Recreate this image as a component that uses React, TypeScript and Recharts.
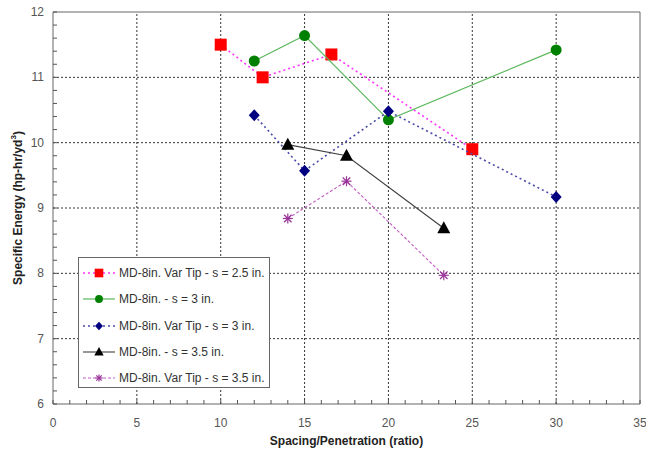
import React from 'react';
import { ScatterChart, Scatter, XAxis, YAxis, ReferenceLine, ReferenceArea, Legend } from 'recharts';

// ---- data ----
const varTip25 = [
  { x: 10, y: 11.5 },
  { x: 12.5, y: 11.0 },
  { x: 16.6, y: 11.35 },
  { x: 25, y: 9.9 },
];
const md8s3 = [
  { x: 12, y: 11.25 },
  { x: 15, y: 11.64 },
  { x: 20, y: 10.35 },
  { x: 30, y: 11.42 },
];
const varTip3 = [
  { x: 12, y: 10.42 },
  { x: 15, y: 9.57 },
  { x: 20, y: 10.48 },
  { x: 30, y: 9.17 },
];
const md8s35 = [
  { x: 14, y: 9.97 },
  { x: 17.5, y: 9.8 },
  { x: 23.3, y: 8.69 },
];
const varTip35 = [
  { x: 14, y: 8.84 },
  { x: 17.5, y: 9.41 },
  { x: 23.3, y: 7.97 },
];

const seriesNames = [
  'MD-8in. Var Tip - s = 2.5 in.',
  'MD-8in. - s = 3 in.',
  'MD-8in. Var Tip - s = 3 in.',
  'MD-8in. - s = 3.5 in.',
  'MD-8in. Var Tip - s = 3.5 in.',
];

const xMajorTicks = [0, 5, 10, 15, 20, 25, 30, 35];
const yMajorTicks = [6, 7, 8, 9, 10, 11, 12];
const xGrid = [5, 10, 15, 20, 25, 30];
const yGrid = [7, 8, 9, 10, 11];

const xAllTicks: number[] = [];
for (let i = 0; i <= 35; i++) xAllTicks.push(i);
const yAllTicks: number[] = [];
for (let i = 0; i <= 30; i++) yAllTicks.push(Math.round((6 + i * 0.2) * 10) / 10);

const FONT = '"Liberation Sans", Arial, sans-serif';

// ---- marker shapes ----
type Kind = 'square' | 'circle' | 'diamond' | 'triangle' | 'asterisk';

function Marker({ kind, cx, cy, color, k = 1 }: { kind: Kind; cx: number; cy: number; color: string; k?: number }) {
  if (kind === 'square') return <rect x={cx - 6 * k} y={cy - 6 * k} width={12 * k} height={12 * k} fill={color} />;
  if (kind === 'circle') return <circle cx={cx} cy={cy} r={5.5 * k} fill={color} />;
  if (kind === 'diamond')
    return (
      <polygon
        points={`${cx},${cy - 6 * k} ${cx + 5.5 * k},${cy} ${cx},${cy + 6 * k} ${cx - 5.5 * k},${cy}`}
        fill={color}
      />
    );
  if (kind === 'triangle')
    return (
      <polygon
        points={`${cx},${cy - 7 * k} ${cx + 6.5 * k},${cy + 5 * k} ${cx - 6.5 * k},${cy + 5 * k}`}
        fill={color}
      />
    );
  const r = 5 * k;
  return (
    <g stroke={color} strokeWidth={1.2}>
      <line x1={cx - r} y1={cy} x2={cx + r} y2={cy} />
      <line x1={cx} y1={cy - r} x2={cx} y2={cy + r} />
      <line x1={cx - r * 0.75} y1={cy - r * 0.75} x2={cx + r * 0.75} y2={cy + r * 0.75} />
      <line x1={cx - r * 0.75} y1={cy + r * 0.75} x2={cx + r * 0.75} y2={cy - r * 0.75} />
    </g>
  );
}

const series = [
  { name: seriesNames[0], data: varTip25, kind: 'square' as Kind, color: '#ff0000', line: '#ff33ff', dash: '2 3', width: 1.6 },
  { name: seriesNames[1], data: md8s3, kind: 'circle' as Kind, color: '#008000', line: '#5cb85c', dash: undefined, width: 1.2 },
  { name: seriesNames[2], data: varTip3, kind: 'diamond' as Kind, color: '#000080', line: '#4a4aa8', dash: '2 3', width: 1.6 },
  { name: seriesNames[3], data: md8s35, kind: 'triangle' as Kind, color: '#000000', line: '#404040', dash: undefined, width: 1.1 },
  { name: seriesNames[4], data: varTip35, kind: 'asterisk' as Kind, color: '#993399', line: '#c25cc2', dash: '3 2', width: 1.1 },
];

// ---- ticks ----
const XTick = (props: any) => {
  const { x, y, payload } = props;
  const v = payload.value;
  const major = xMajorTicks.includes(v);
  return (
    <g>
      <line x1={x} y1={y} x2={x} y2={y - 4} stroke="#555" strokeWidth={1} />
      {major && (
        <text x={x} y={y + 23} textAnchor="middle" fontSize={12} fill="#555" fontFamily={FONT}>
          {v}
        </text>
      )}
    </g>
  );
};

const YTick = (props: any) => {
  const { x, y, payload } = props;
  const v = payload.value;
  const major = yMajorTicks.includes(v);
  return (
    <g>
      <line x1={x} y1={y} x2={x + 4} y2={y} stroke="#555" strokeWidth={1} />
      {major && (
        <text x={x - 9} y={y + 4} textAnchor="end" fontSize={12} fill="#555" fontFamily={FONT}>
          {v}
        </text>
      )}
    </g>
  );
};

const YLabel = (props: any) => {
  const vb = props.viewBox || {};
  const cx = (vb.x || 0) + 18;
  const cy = (vb.y || 0) + (vb.height || 0) / 2;
  return (
    <text
      x={cx}
      y={cy}
      transform={`rotate(-90, ${cx}, ${cy})`}
      textAnchor="middle"
      dominantBaseline="central"
      fontSize={12}
      fontWeight="bold"
      fill="#222"
      fontFamily={FONT}
    >
      Specific Energy (hp-hr/yd
      <tspan dy={-5} fontSize={8}>3</tspan>
      <tspan dy={5}>)</tspan>
    </text>
  );
};

const XLabel = (props: any) => {
  const vb = props.viewBox || {};
  const cx = (vb.x || 0) + (vb.width || 0) / 2;
  const cy = (vb.y || 0) + 41;
  return (
    <text x={cx} y={cy} textAnchor="middle" fontSize={12} fontWeight="bold" fill="#222" fontFamily={FONT}>
      Spacing/Penetration (ratio)
    </text>
  );
};

const LegendBox = () => (
  <div
    style={{
      width: 192,
      height: 131,
      border: '1px solid #666',
      background: '#fff',
      boxSizing: 'border-box',
      paddingTop: 2,
      fontFamily: FONT,
      fontSize: 12,
      color: '#333',
    }}
  >
    {series.map((s) => (
      <div key={s.name} style={{ height: 26.3, display: 'flex', alignItems: 'center', whiteSpace: 'nowrap' }}>
        <svg width={40} height={16} style={{ flex: 'none' }}>
          <line x1={4} y1={8} x2={36} y2={8} stroke={s.line} strokeWidth={s.width} strokeDasharray={s.dash} />
          <Marker kind={s.kind} cx={20} cy={8} color={s.color} k={0.72} />
        </svg>
        <span>{s.name}</span>
      </div>
    ))}
  </div>
);

export default function App() {
  return (
    <div style={{ position: 'absolute', left: 0, top: 0, width: 646, height: 451, background: '#fff' }}>
      <ScatterChart width={646} height={451} margin={{ top: 12, right: 6, bottom: 0, left: 0 }}>
        <XAxis
          type="number"
          dataKey="x"
          domain={[0, 35]}
          ticks={xAllTicks}
          interval={0}
          tick={<XTick />}
          tickLine={false}
          tickSize={0}
          tickMargin={0}
          axisLine={false}
          height={47}
          allowDataOverflow
          label={<XLabel />}
        />
        <YAxis
          type="number"
          dataKey="y"
          domain={[6, 12]}
          ticks={yAllTicks}
          interval={0}
          tick={<YTick />}
          tickLine={false}
          tickSize={0}
          tickMargin={0}
          axisLine={false}
          width={53}
          allowDataOverflow
          label={<YLabel />}
        />
        {xGrid.map((v) => (
          <ReferenceLine key={'gx' + v} x={v} stroke="#333" strokeDasharray="2 2" strokeWidth={1} />
        ))}
        {yGrid.map((v) => (
          <ReferenceLine key={'gy' + v} y={v} stroke="#333" strokeDasharray="2 2" strokeWidth={1} />
        ))}
        <ReferenceArea x1={0} x2={35} y1={6} y2={12} fill="none" stroke="#666" strokeWidth={1} />
        <Legend
          layout="vertical"
          align="center"
          verticalAlign="middle"
          content={<LegendBox />}
          wrapperStyle={{ left: 78, top: 257, width: 192, height: 131 }}
        />
        {series.map((s) => (
          <Scatter
            key={s.name}
            name={s.name}
            data={s.data}
            fill={s.color}
            isAnimationActive={false}
            line={{ stroke: s.line, strokeWidth: s.width, strokeDasharray: s.dash }}
            lineType="joint"
            shape={(p: any) => <Marker kind={s.kind} cx={p.cx} cy={p.cy} color={s.color} />}
          />
        ))}
      </ScatterChart>
    </div>
  );
}
